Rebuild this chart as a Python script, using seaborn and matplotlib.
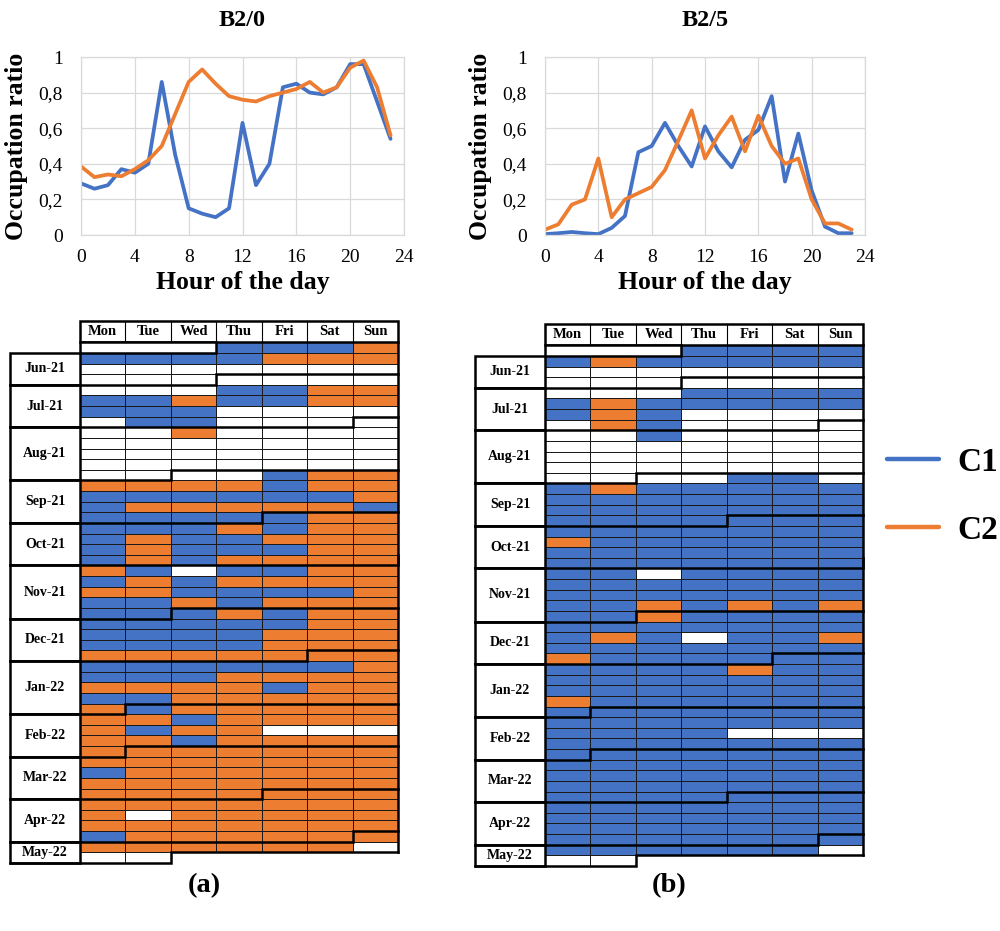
import numpy as np
import pandas as pd
import matplotlib
matplotlib.use("Agg")
import matplotlib.pyplot as plt
from matplotlib.colors import ListedColormap
from matplotlib.patches import Rectangle
import seaborn as sns

# ---------------- hourly occupation profiles ----------------
hours = list(range(24))
b20_c1 = [0.29, 0.26, 0.28, 0.37, 0.35, 0.40, 0.86, 0.45, 0.15, 0.12, 0.10, 0.15,
          0.63, 0.28, 0.40, 0.83, 0.85, 0.80, 0.79, 0.83, 0.96, 0.96, 0.75, 0.54]
b20_c2 = [0.385, 0.325, 0.34, 0.33, 0.37, 0.42, 0.50, 0.68, 0.86, 0.93, 0.85, 0.78,
          0.76, 0.75, 0.78, 0.80, 0.82, 0.86, 0.80, 0.83, 0.94, 0.98, 0.83, 0.56]
b25_c1 = [0.005, 0.01, 0.017, 0.01, 0.005, 0.04, 0.107, 0.465, 0.50, 0.63, 0.50, 0.385,
          0.61, 0.47, 0.38, 0.535, 0.59, 0.78, 0.30, 0.57, 0.25, 0.047, 0.01, 0.01]
b25_c2 = [0.03, 0.06, 0.17, 0.20, 0.43, 0.10, 0.20, 0.235, 0.27, 0.365, 0.53, 0.70,
          0.43, 0.56, 0.665, 0.47, 0.67, 0.50, 0.40, 0.43, 0.20, 0.065, 0.065, 0.03]

x_ticks = [0, 4, 8, 12, 16, 20, 24]
y_ticks = [0, 0.2, 0.4, 0.6, 0.8, 1.0]
y_tick_labels = ["0", "0,2", "0,4", "0,6", "0,8", "1"]
clusters = ["C1", "C2"]

# ---------------- weekly calendars (one row per week, Mon..Sun) ----------------
# 0 = no data, 1 = C1, 2 = C2, '-' = outside the calendar
weekdays = ["Mon", "Tue", "Wed", "Thu", "Fri", "Sat", "Sun"]
first_monday = "2021-06-07"
month_labels = ["Jun-21", "Jul-21", "Aug-21", "Sep-21", "Oct-21", "Nov-21",
                "Dec-21", "Jan-22", "Feb-22", "Mar-22", "Apr-22", "May-22"]
month_ends = ["2021-06-30", "2021-07-31", "2021-08-31", "2021-09-30", "2021-10-31",
              "2021-11-30", "2021-12-31", "2022-01-31", "2022-02-28", "2022-03-31",
              "2022-04-30"]

cal_b20 = [
    "---1112", "1111222", "0000000", "0000000", "0001122", "1121122", "1110000",
    "0110000", "0020000", "0000000", "0000000", "0000000", "0000122", "2222122",
    "1111112", "1222221", "1111122", "1112122", "1211222", "1211122", "1212222",
    "2101122", "1212222", "2211112", "1121222", "1112122", "1111122", "1111222",
    "1111222", "2222222", "1111112", "1112222", "2222122", "1122222", "2122222",
    "2212222", "2122000", "2212222", "2222222", "2222222", "1222222", "2222222",
    "2222222", "2222222", "2022222", "2222222", "1222222", "2222220", "00-----",
]
cal_b25 = [
    "---1111", "1211111", "0000000", "0000000", "0001111", "1211111", "1210000",
    "0210000", "0010000", "0000000", "0000000", "0000000", "0000110", "1211111",
    "1111111", "1111111", "1111111", "1111111", "2111111", "1111111", "1111111",
    "1101111", "1111111", "1111111", "1121212", "1121111", "1111111", "1210112",
    "1111111", "2111111", "1111211", "1111111", "1111111", "2111111", "1111111",
    "1111111", "1111000", "1111111", "1111111", "1111111", "1111111", "1111111",
    "1111111", "1111111", "1111111", "1111111", "1111111", "1111110", "00-----",
]

BLUE = "#4472C4"
ORANGE = "#ED7D31"
SERIF = "Liberation Serif"

sns.set_style("whitegrid")
plt.rcParams["font.family"] = [SERIF, "DejaVu Serif"]
plt.rcParams["text.color"] = "black"
plt.rcParams["axes.labelcolor"] = "black"
plt.rcParams["xtick.color"] = "black"
plt.rcParams["ytick.color"] = "black"

W, H = 1000, 931
fig = plt.figure(figsize=(W / 100, H / 100), dpi=100)


def fbox(left, top, right, bottom):
    """Figure-fraction rectangle from pixel edges."""
    return [left / W, 1 - bottom / H, (right - left) / W, (bottom - top) / H]


# ---------------- line charts ----------------
def draw_profile(rect, c1, c2, title, legend):
    ax = fig.add_axes(rect)
    df = pd.DataFrame({
        "Hour": hours + hours,
        "Occupation": c1 + c2,
        "Cluster": [clusters[0]] * len(hours) + [clusters[1]] * len(hours),
    })
    sns.lineplot(data=df, x="Hour", y="Occupation", hue="Cluster",
                 palette={"C1": BLUE, "C2": ORANGE}, linewidth=2.7,
                 ax=ax, legend=legend)
    ax.set_xlim(0, 24)
    ax.set_ylim(0, 1)
    ax.set_xticks(x_ticks)
    ax.set_xticklabels([str(t) for t in x_ticks])
    ax.set_yticks(y_ticks)
    ax.set_yticklabels(y_tick_labels)
    ax.grid(True, color="#D9D9D9", linewidth=0.9)
    for s in ax.spines.values():
        s.set_color("#D9D9D9")
        s.set_linewidth(0.9)
    ax.tick_params(axis="y", length=0, pad=13, labelsize=14)
    ax.tick_params(axis="x", length=0, pad=10, labelsize=14)
    ax.set_xlabel("Hour of the day", fontsize=18.5, fontweight="bold")
    ax.set_ylabel("Occupation ratio", fontsize=18.5, fontweight="bold")
    ax.xaxis.set_label_coords(0.5, -0.20)
    ax.yaxis.set_label_coords(-0.165, 0.5)
    ax.set_title(title, fontsize=17.5, fontweight="bold", pad=22)
    return ax


ax_a = draw_profile(fbox(81, 57, 404, 235), b20_c1, b20_c2, "B2/0", True)
ax_b = draw_profile(fbox(545, 57, 865, 235), b25_c1, b25_c2, "B2/5", False)

handles, labels = ax_a.get_legend_handles_labels()
ax_a.get_legend().remove()
for h in handles:
    h.set_linewidth(3.2)
fig.legend(handles, labels, loc="center left",
           bbox_to_anchor=(0.887, 1 - 496.5 / H), frameon=False,
           prop={"family": SERIF, "weight": "bold", "size": 24},
           handlelength=1.55, handletextpad=0.55, labelspacing=1.1,
           borderpad=0, borderaxespad=0)

# ---------------- calendars ----------------
cal_cmap = ListedColormap(["white", BLUE, ORANGE])
LABEL_W = 1.54
HEAD_H = 2.0
THICK = 1.8


def draw_calendar(rect, rows, tag):
    ax = fig.add_axes(rect)
    grid = np.array([[np.nan if c == "-" else float(c) for c in r] for r in rows])
    sns.heatmap(grid, ax=ax, cmap=cal_cmap, vmin=-0.5, vmax=2.5, cbar=False,
                mask=np.isnan(grid), linewidths=0.6, linecolor="#1a1a1a",
                xticklabels=False, yticklabels=False)
    n_rows = len(rows)
    ax.set_xlim(-LABEL_W, 7)
    ax.set_ylim(n_rows, -HEAD_H)
    ax.axis("off")

    # hide the mesh edges of cells that lie outside the calendar
    for i, r in enumerate(rows):
        for j, c in enumerate(r):
            if c == "-":
                ax.add_patch(Rectangle((j, i), 1, 1, facecolor="white",
                                       edgecolor="none", zorder=3))

    def seg(xs, ys, lw=THICK):
        ax.plot(xs, ys, color="black", lw=lw, clip_on=False,
                solid_capstyle="projecting", solid_joinstyle="miter", zorder=5)

    # weekday header
    ax.add_patch(Rectangle((0, -HEAD_H), 7, HEAD_H, facecolor="white",
                           edgecolor="black", lw=THICK, clip_on=False, zorder=4))
    for i, d in enumerate(weekdays):
        if i:
            seg([i, i], [-HEAD_H, 0], lw=0.8)
        ax.text(i + 0.5, -HEAD_H / 2, d, ha="center", va="center",
                fontsize=10.5, fontweight="bold", zorder=6)

    # days before the first record
    ax.add_patch(Rectangle((0, 0), 3, 1, facecolor="white", edgecolor="black",
                           lw=THICK, clip_on=False, zorder=4))

    # month boundaries as staircase lines
    start = pd.Timestamp(first_monday)
    bounds = []
    for d in pd.to_datetime(month_ends):
        r = (d - start).days // 7
        k = d.weekday() + 1
        bounds.append(r)
        seg([-LABEL_W, k, k, 7], [r + 1, r + 1, r, r])

    # month label boxes
    tops = [1] + [b + 1 for b in bounds]
    bottoms = [b + 1 for b in bounds] + [n_rows]
    for lab, t, b in zip(month_labels, tops, bottoms):
        ax.add_patch(Rectangle((-LABEL_W, t), LABEL_W, b - t, facecolor="white",
                               edgecolor="black", lw=THICK, clip_on=False, zorder=4))
        ax.text(-LABEL_W / 2, (t + b) / 2, lab, ha="center", va="center",
                fontsize=10, fontweight="bold", zorder=6)

    # outer outline of the day grid
    last_full = n_rows - 1
    tail = sum(c != "-" for c in rows[-1])
    seg([7, 7], [0, last_full])
    seg([7, tail, tail, -LABEL_W], [last_full, last_full, n_rows, n_rows])

    fig.text((rect[0] + rect[2] / 2), 1 - 886 / H, tag, ha="center",
             va="center", fontsize=20.5, fontweight="bold")
    return ax


draw_calendar(fbox(10, 321, 398, 863), cal_b20, "(a)")
draw_calendar(fbox(475, 324, 863, 866), cal_b25, "(b)")

fig.savefig("out.png", dpi=100, facecolor="white")
